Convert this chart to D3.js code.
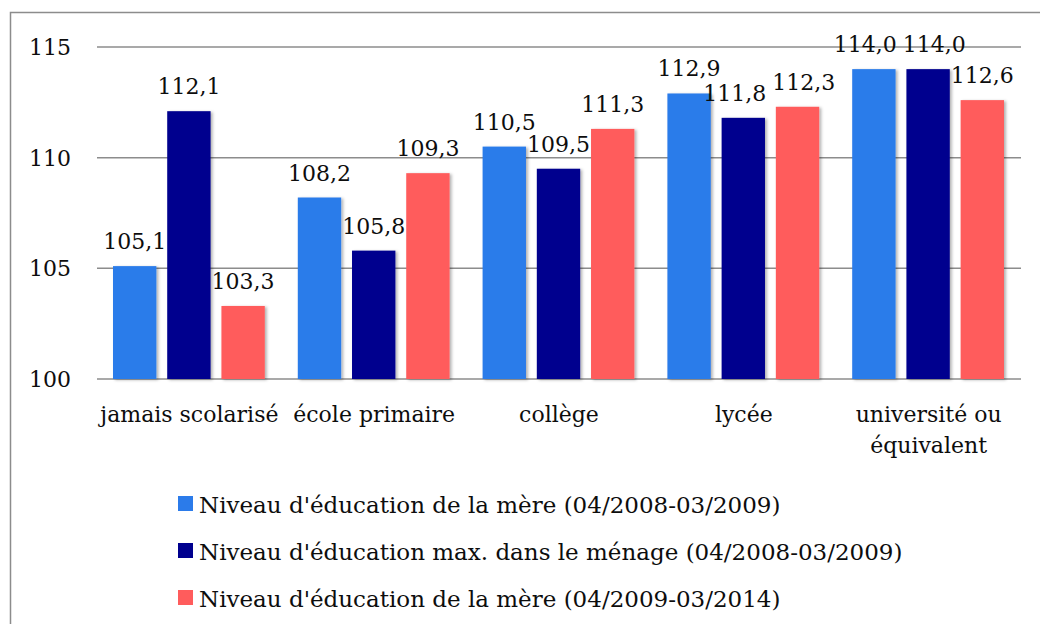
<!DOCTYPE html>
<html>
<head>
<meta charset="utf-8">
<script src="https://cdn.jsdelivr.net/npm/d3@7"></script>
<style>
  body { margin:0; background:#fff; }
  text { font-family: "DejaVu Serif", serif; fill:#0d0d0d; }
</style>
</head>
<body>
<div id="chart-area"></div>
<script>
var categories = ["jamais scolarisé", "école primaire", "collège", "lycée", "université ou|équivalent"];
var seriesNames = ["Niveau d'éducation de la mère (04/2008-03/2009)",
                   "Niveau d'éducation max. dans le ménage (04/2008-03/2009)",
                   "Niveau d'éducation de la mère (04/2009-03/2014)"];
var mere2008 = [105.1, 108.2, 110.5, 112.9, 114.0];
var menage2008 = [112.1, 105.8, 109.5, 111.8, 114.0];
var mere2009 = [103.3, 109.3, 111.3, 112.3, 112.6];
var yTicks = [100, 105, 110, 115];
var colors = ["#2b7bea", "#00008e", "#ff5c5c"];

var series = [mere2008, menage2008, mere2009];
var fontSize = 22;

var svg = d3.select("#chart-area").append("svg")
    .attr("width", 1040)
    .attr("height", 624);

var defs = svg.append("defs");
var f = defs.append("filter").attr("id", "shadow")
    .attr("x", "-20%").attr("y", "-20%").attr("width", "150%").attr("height", "150%");
f.append("feDropShadow")
    .attr("dx", 2).attr("dy", 1).attr("stdDeviation", 1.5)
    .attr("flood-color", "#000").attr("flood-opacity", 0.3);

// outer frame (cropped at right and bottom)
svg.append("rect")
    .attr("x", 10.5).attr("y", 12.5)
    .attr("width", 1100).attr("height", 700)
    .attr("fill", "none").attr("stroke", "#8c8c8c").attr("stroke-width", 1.5);

var x = d3.scaleBand().domain(categories).range([97, 1021]).paddingInner(0).paddingOuter(0);
var xs = d3.scaleBand().domain([0, 1, 2]).range([16, x.bandwidth() - 17]).paddingInner(0.2);
var y = d3.scaleLinear().domain([100, 115]).range([379, 47]);

var g = svg.append("g");

g.selectAll(".grid").data(yTicks).enter().append("line")
    .attr("x1", 97).attr("x2", 1021)
    .attr("y1", function(d) { return y(d); })
    .attr("y2", function(d) { return y(d); })
    .attr("stroke", "#8c8c8c").attr("stroke-width", 1.5);

g.selectAll(".ytick").data(yTicks).enter().append("text")
    .attr("x", 71)
    .attr("y", function(d) { return y(d) + 8; })
    .attr("text-anchor", "end")
    .attr("font-size", fontSize)
    .text(function(d) { return d; });

var labels = [];
series.forEach(function(vals, s) {
    var bars = g.append("g");
    bars.selectAll("rect").data(vals).enter().append("rect")
        .attr("x", function(d, i) { return x(categories[i]) + xs(s); })
        .attr("y", function(d) { return y(d); })
        .attr("width", xs.bandwidth())
        .attr("height", function(d) { return y(100) - y(d); })
        .attr("fill", colors[s])
        .attr("filter", "url(#shadow)");
    labels[s] = bars.selectAll("text").data(vals).enter().append("text")
        .attr("x", function(d, i) { return x(categories[i]) + xs(s) + xs.bandwidth() / 2; })
        .attr("y", function(d) { return y(d) - 17; })
        .attr("text-anchor", "middle")
        .attr("font-size", fontSize)
        .text(function(d) { return d3.format(".1f")(d).replace(".", ","); });
});

// push apart value labels that collide (same height, neighbouring bars)
categories.forEach(function(c, i) {
    for (var s = 0; s < series.length - 1; s++) {
        var a = d3.select(labels[s].nodes()[i]), b = d3.select(labels[s + 1].nodes()[i]);
        if (Math.abs(+a.attr("y") - +b.attr("y")) > 20) continue;
        var wa = a.node().getComputedTextLength(), wb = b.node().getComputedTextLength();
        var overlap = (+a.attr("x") + wa / 2) - (+b.attr("x") - wb / 2);
        if (overlap > -6) {
            var shift = overlap + 6;
            a.attr("x", +a.attr("x") - shift * 0.58);
            b.attr("x", +b.attr("x") + shift * 0.42);
        }
    }
});

categories.forEach(function(c) {
    var lines = c.split("|");
    var t = g.append("text")
        .attr("x", x(c) + x.bandwidth() / 2)
        .attr("y", 422)
        .attr("text-anchor", "middle")
        .attr("font-size", fontSize);
    lines.forEach(function(l, i) {
        t.append("tspan")
            .attr("x", x(c) + x.bandwidth() / 2)
            .attr("dy", i == 0 ? 0 : 31)
            .text(l);
    });
});

var legend = svg.append("g").attr("transform", "translate(178, 496)");
seriesNames.forEach(function(name, i) {
    var row = legend.append("g").attr("transform", "translate(0," + (i * 47) + ")");
    row.append("rect")
        .attr("width", 15).attr("height", 15)
        .attr("fill", colors[i]);
    row.append("text")
        .attr("x", 21).attr("y", 17)
        .attr("font-size", 23)
        .text(name);
});
</script>
</body>
</html>
